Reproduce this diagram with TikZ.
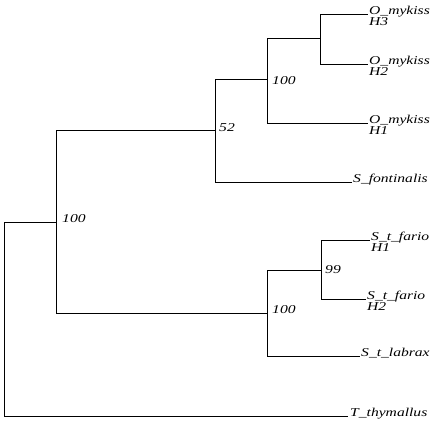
\documentclass[tikz,border=0pt]{standalone}
\usepackage{fontspec}
\setmainfont{Liberation Serif}
\usepackage{graphicx}
\newcommand\tlbl[1]{\scalebox{1.3}[1]{\itshape #1}}
\begin{document}
\begin{tikzpicture}[x=1pt,y=-1pt,
  branch/.style={line width=0.9pt, black},
  leaflabel/.style={anchor=base west, inner sep=0pt, font=\fontsize{12}{14}\selectfont},
  support/.style={anchor=west, inner sep=0pt, font=\fontsize{12}{14}\selectfont}]
\useasboundingbox (0,0) rectangle (434,423);
% internal nodes
\coordinate (root) at (4,222);
\coordinate (n6) at (56,222);
\coordinate (n3) at (215,130);
\coordinate (n2) at (267,79);
\coordinate (n1) at (320,38);
\coordinate (n5) at (267,313);
\coordinate (n4) at (321,270);
% leaf ends
\coordinate (e1) at (368,14);
\coordinate (e2) at (368,64);
\coordinate (e3) at (368,123);
\coordinate (e4) at (352,182);
\coordinate (e5) at (370,240);
\coordinate (e6) at (366,299);
\coordinate (e7) at (360,356);
\coordinate (e8) at (348,416);
% branches
\draw[branch] (root) -- (n6);
\draw[branch] (root) |- (e8);
\draw[branch] (n6) |- (n3);
\draw[branch] (n6) |- (n5);
\draw[branch] (n3) |- (n2);
\draw[branch] (n3) |- (e4);
\draw[branch] (n2) |- (n1);
\draw[branch] (n2) |- (e3);
\draw[branch] (n1) |- (e1);
\draw[branch] (n1) |- (e2);
\draw[branch] (n5) |- (n4);
\draw[branch] (n5) |- (e7);
\draw[branch] (n4) |- (e5);
\draw[branch] (n4) |- (e6);
% leaf labels
\node[leaflabel] (l1) at ([xshift=1pt]e1) {\tlbl{O\_mykiss}};
\node[leaflabel, yshift=-11pt] (l1b) at (l1.base west) {\tlbl{H3}};
\node[leaflabel] (l2) at ([xshift=1pt]e2) {\tlbl{O\_mykiss}};
\node[leaflabel, yshift=-11pt] (l2b) at (l2.base west) {\tlbl{H2}};
\node[leaflabel] (l3) at ([xshift=1pt]e3) {\tlbl{O\_mykiss}};
\node[leaflabel, yshift=-11pt] (l3b) at (l3.base west) {\tlbl{H1}};
\node[leaflabel] (l4) at ([xshift=1pt]e4) {\tlbl{S\_fontinalis}};
\node[leaflabel] (l5) at ([xshift=1pt]e5) {\tlbl{S\_t\_fario}};
\node[leaflabel, yshift=-11pt] (l5b) at (l5.base west) {\tlbl{H1}};
\node[leaflabel] (l6) at ([xshift=1pt]e6) {\tlbl{S\_t\_fario}};
\node[leaflabel, yshift=-11pt] (l6b) at (l6.base west) {\tlbl{H2}};
\node[leaflabel] (l7) at ([xshift=1pt]e7) {\tlbl{S\_t\_labrax}};
\node[leaflabel] (l8) at ([xshift=2pt]e8) {\tlbl{T\_thymallus}};
% support values
\node[support] (s6) at ([xshift=6pt,yshift=3pt]n6) {\tlbl{100}};
\node[support] (s3) at ([xshift=4pt,yshift=2pt]n3) {\tlbl{52}};
\node[support] (s2) at ([xshift=5pt,yshift=-2pt]n2) {\tlbl{100}};
\node[support] (s5) at ([xshift=5pt,yshift=3pt]n5) {\tlbl{100}};
\node[support] (s4) at ([xshift=4pt,yshift=0pt]n4) {\tlbl{99}};
\end{tikzpicture}
\end{document}
